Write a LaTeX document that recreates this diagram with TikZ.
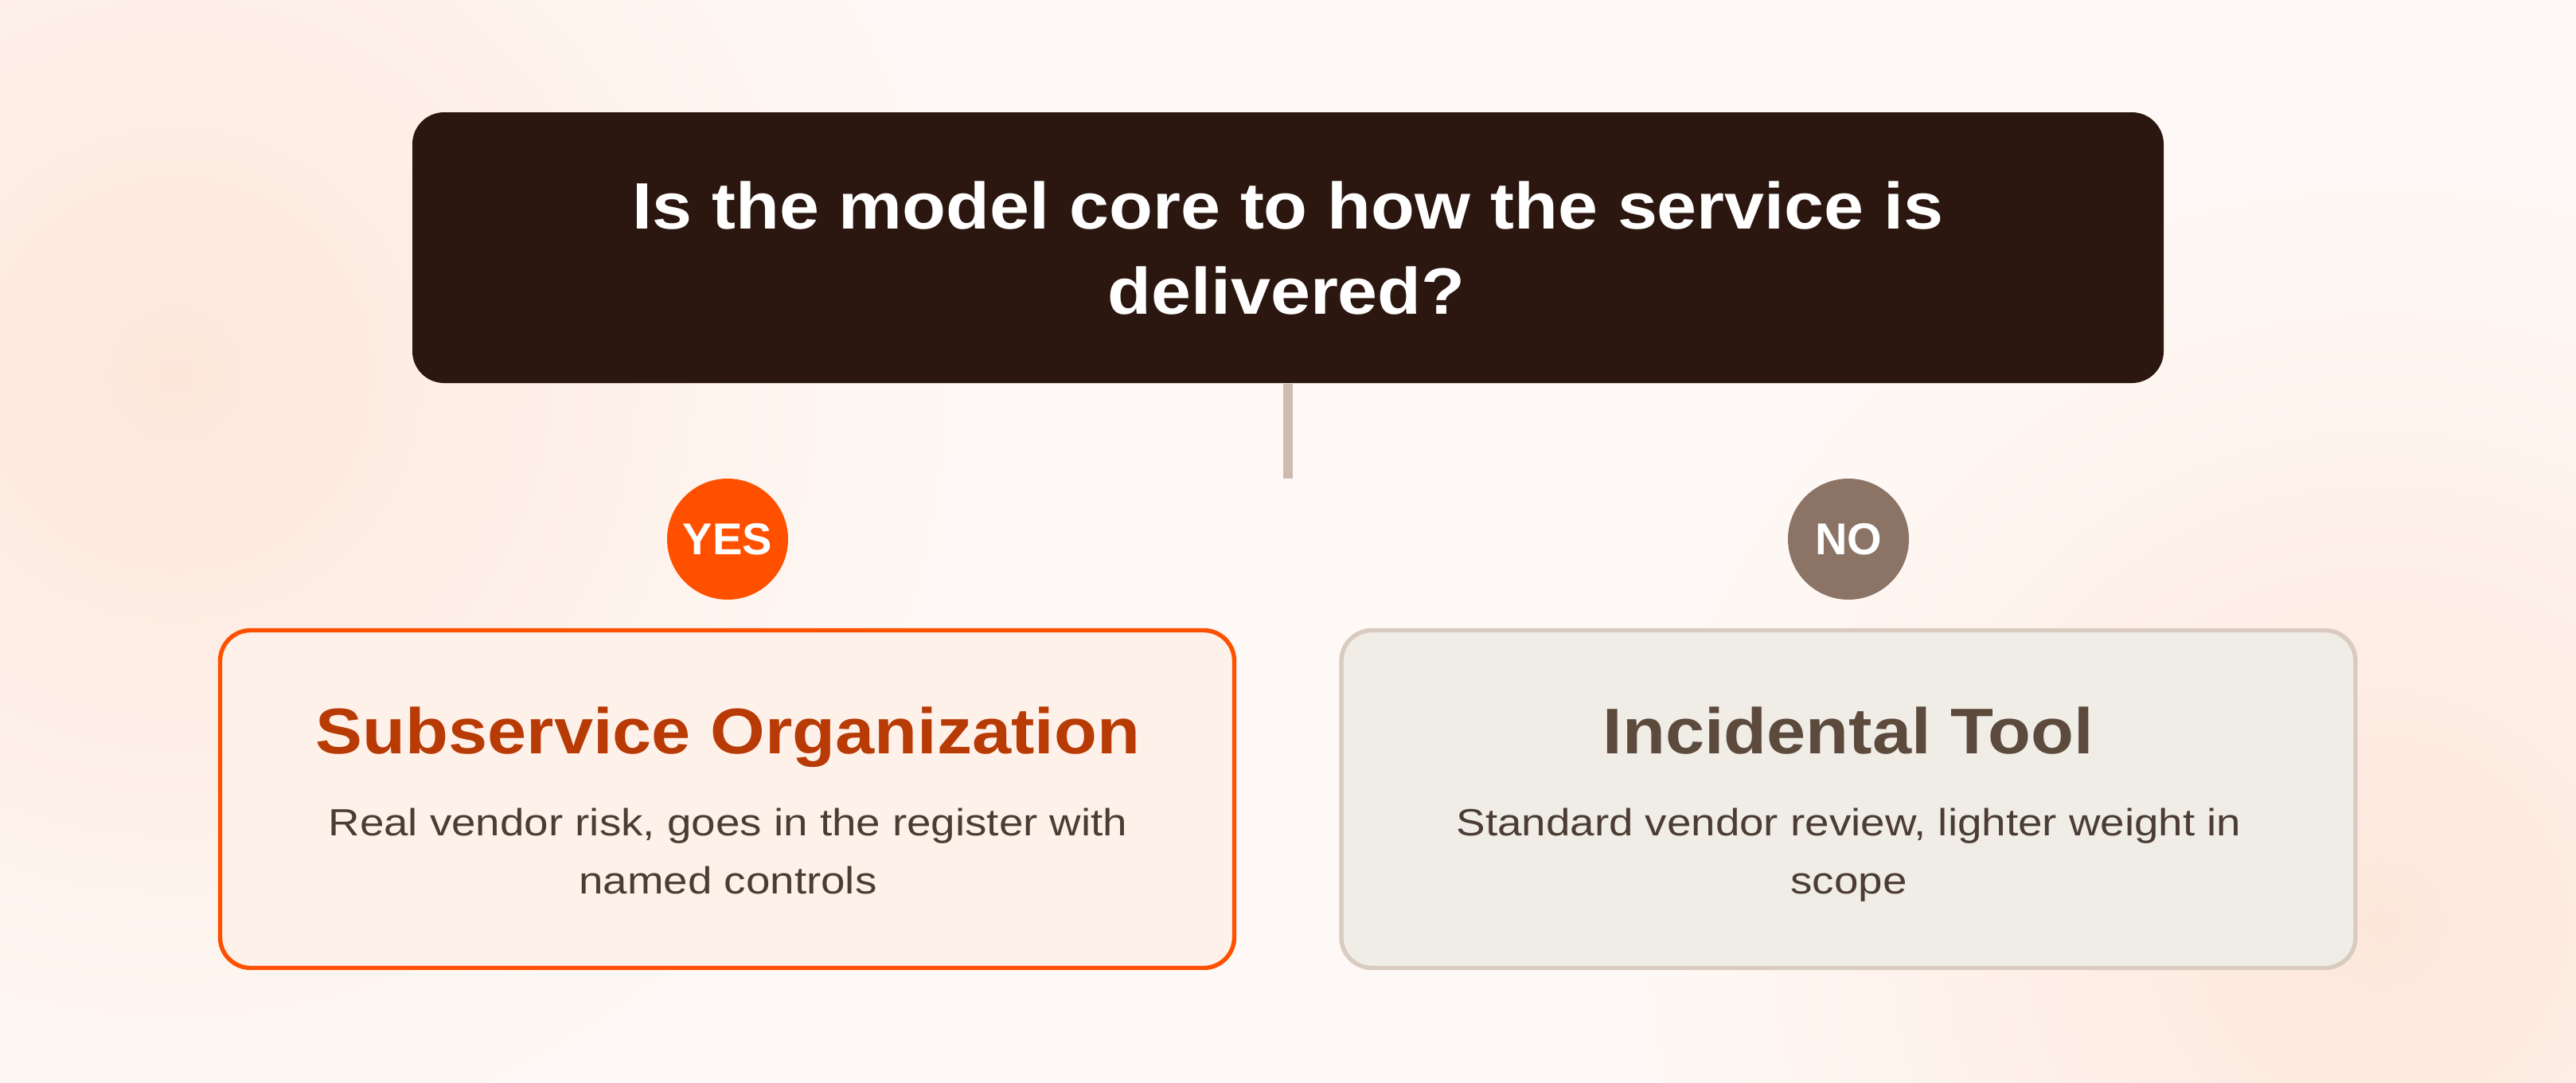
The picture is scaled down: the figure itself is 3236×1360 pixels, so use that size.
\documentclass[tikz,border=0pt]{standalone}
\usepackage{fontspec}
\setmainfont{Liberation Sans}
\newfontfamily\hdfont[FakeStretch=1.09]{Liberation Sans}
\newfontfamily\bdfont[FakeStretch=1.15]{Liberation Sans}
\definecolor{bgc}{HTML}{FEF9F6}
\definecolor{glow}{HTML}{FDE7DB}
\definecolor{qfill}{HTML}{2B1710}
\definecolor{stemc}{HTML}{CDBBAF}
\definecolor{yesc}{HTML}{FF5000}
\definecolor{noc}{HTML}{8B7366}
\definecolor{yfill}{HTML}{FEF1E9}
\definecolor{ytitle}{HTML}{B83A05}
\definecolor{bodyc}{HTML}{4B3D33}
\definecolor{nfill}{HTML}{F0ECE6}
\definecolor{nborder}{HTML}{D9CBBF}
\definecolor{ntitle}{HTML}{5C4A3C}
\begin{document}
\begin{tikzpicture}[x=0.25pt,y=-0.25pt,
  qbox/.style={rectangle, rounded corners=10pt, fill=qfill, minimum width=550pt, minimum height=85pt, inner sep=0},
  qtext/.style={anchor=base, inner sep=0, text=white, font=\hdfont\bfseries\fontsize{20.6}{24}\selectfont},
  ttl/.style={anchor=base, inner sep=0, font=\hdfont\bfseries\fontsize{20.25}{24}\selectfont},
  bodytext/.style={anchor=base, inner sep=0, text=bodyc, font=\bdfont\fontsize{11.9}{14}\selectfont},
  badge/.style={circle, minimum size=38pt, inner sep=0, text=white, font=\bfseries\fontsize{14}{16}\selectfont},
  choice/.style={rectangle, rounded corners=9.6pt, line width=1.35pt, minimum width=318.5pt, minimum height=106pt, inner sep=0},
  stem/.style={draw=stemc, line width=3pt}
]
\useasboundingbox (0,0) rectangle (3236,1360);
\fill[bgc] (0,0) rectangle (3236,1360);
\shade[inner color=glow, outer color=bgc] (220,470) circle (1000);
\shade[inner color=glow, outer color=bgc] (2990,1160) circle (950);

\node[qbox] (q) at (1618,311) {};
\node[qtext] (q1) at (1618,287) {Is the model core to how the service is};
\node[qtext] (q2) at (1616,394) {delivered?};
\coordinate (stemend) at (1618,601);
\draw[stem] (q.south) -- (stemend);

\node[badge, fill=yesc] (yes) at (914,677) {YES};
\node[badge, fill=noc] (no) at (2322,677) {NO};

\node[choice, draw=yesc, fill=yfill] (ybox) at (913.5,1003.5) {};
\node[ttl, text=ytitle] (yt) at (914.5,946) {Subservice Organization};
\node[bodytext] (yb1) at (914.5,1049) {Real vendor risk, goes in the register with};
\node[bodytext] (yb2) at (914.5,1122) {named controls};

\node[choice, draw=nborder, fill=nfill] (nbox) at (2322,1003.5) {};
\node[ttl, text=ntitle] (nt) at (2322,946) {Incidental Tool};
\node[bodytext] (nb1) at (2322.5,1049) {Standard vendor review, lighter weight in};
\node[bodytext] (nb2) at (2322.5,1122) {scope};
\end{tikzpicture}
\end{document}
